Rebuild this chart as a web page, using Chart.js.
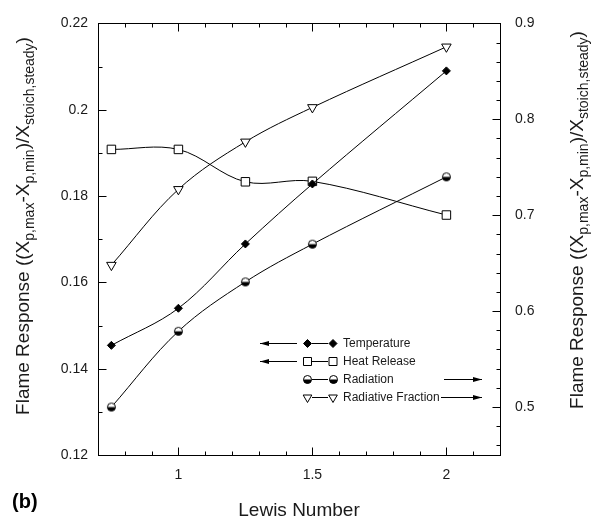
<!DOCTYPE html>
<html>
<head>
<meta charset="utf-8">
<script src="https://cdn.jsdelivr.net/npm/chart.js@4.4.1/dist/chart.umd.min.js"></script>
<style>
  html, body { margin: 0; padding: 0; background: #fff; }
</style>
</head>
<body>
<canvas id="myChart" width="598" height="522"></canvas>
<script>
// values
const lewis = [0.75, 1, 1.25, 1.5, 2];
const temperature = [0.1454, 0.1540, 0.1689, 0.1828, 0.2090];
const heatRelease = [0.1908, 0.1908, 0.1833, 0.1834, 0.1756];
const radiation = [0.500, 0.579, 0.6305, 0.6698, 0.740];
const radiativeFraction = [0.648, 0.727, 0.7765, 0.8124, 0.8756];

const xTicks = [1, 1.5, 2];
const leftTicks = [0.12, 0.14, 0.16, 0.18, 0.2, 0.22];
const rightTicks = [0.5, 0.6, 0.7, 0.8, 0.9];

const seriesNames = ['Temperature', 'Heat Release', 'Radiation', 'Radiative Fraction'];

Chart.defaults.font.family = '"Liberation Sans", Arial, sans-serif';
Chart.defaults.color = '#1a1a1a';

// half filled circle used for the Radiation markers
function halfDisc(r) {
  const c = document.createElement('canvas');
  const s = Math.ceil(2 * r + 3);
  c.width = s; c.height = s;
  const g = c.getContext('2d');
  g.translate(s / 2, s / 2);
  g.beginPath(); g.arc(0, 0, r, 0, 2 * Math.PI); g.fillStyle = '#fff'; g.fill();
  g.beginPath(); g.arc(0, 0, r, 0, Math.PI); g.closePath(); g.fillStyle = '#000'; g.fill();
  g.beginPath(); g.arc(0, 0, r, 0, 2 * Math.PI); g.lineWidth = 1; g.strokeStyle = '#000'; g.stroke();
  return c;
}
const halfImg = halfDisc(4);

const pts = (ys) => lewis.map((x, i) => ({ x: x, y: ys[i] }));

const data = {
  datasets: [
    {
      label: seriesNames[0], data: pts(temperature), yAxisID: 'y',
      pointStyle: 'rectRot', pointRadius: 4, pointBackgroundColor: '#000'
    },
    {
      label: seriesNames[1], data: pts(heatRelease), yAxisID: 'y',
      pointStyle: 'rect', pointRadius: 6, pointBackgroundColor: '#fff'
    },
    {
      label: seriesNames[2], data: pts(radiation), yAxisID: 'y2',
      pointStyle: halfImg
    },
    {
      label: seriesNames[3], data: pts(radiativeFraction), yAxisID: 'y2',
      pointStyle: 'triangle', pointRotation: 180, pointRadius: 5.5, pointBackgroundColor: '#fff'
    }
  ]
};
data.datasets.forEach(d => {
  d.borderColor = '#000';
  d.borderWidth = 1;
  d.pointBorderColor = '#000';
  d.pointBorderWidth = 1;
  d.tension = 0.35;
  d.fill = false;
});

function fmt(v) { return String(Math.round(v * 100) / 100); }

// frame, inward ticks, y titles with subscripts, legend with arrows
const decor = {
  id: 'decor',
  afterDraw(chart) {
    const c = chart.ctx;
    const a = chart.chartArea;
    const sx = chart.scales.x, sl = chart.scales.y, sr = chart.scales.y2;
    const L = Math.round(a.left) + 0.5, R = Math.round(a.right) + 0.5;
    const T = Math.round(a.top) + 0.5, B = Math.round(a.bottom) + 0.5;
    c.save();
    c.strokeStyle = '#000';
    c.fillStyle = '#000';
    c.lineWidth = 1;
    c.strokeRect(L, T, R - L, B - T);

    c.beginPath();
    for (let i = 8; i <= 21; i++) {
      const x = Math.round(sx.getPixelForValue(i / 10)) + 0.5;
      const len = i % 5 === 0 ? 8 : 4;
      c.moveTo(x, B); c.lineTo(x, B - len);
      c.moveTo(x, T); c.lineTo(x, T + len);
    }
    for (let i = 13; i <= 21; i++) {
      const y = Math.round(sl.getPixelForValue(i / 100)) + 0.5;
      const len = i % 2 === 0 ? 8 : 4;
      c.moveTo(L, y); c.lineTo(L + len, y);
    }
    for (let i = 46; i < 90; i += 2) {
      const y = Math.round(sr.getPixelForValue(i / 100)) + 0.5;
      const len = i % 10 === 0 ? 8 : 4;
      c.moveTo(R, y); c.lineTo(R - len, y);
    }
    c.stroke();

    // y axis titles
    const parts = [['Flame Response ((X', 0], ['p,max', 1], ['-X', 0], ['p,min', 1],
                   [')/X', 0], ['stoich,steady', 1], [')', 0]];
    const mainFont = '19px "Liberation Sans", Arial, sans-serif';
    const subFont = '14px "Liberation Sans", Arial, sans-serif';
    function richTitle(bx, cy) {
      c.save();
      c.translate(bx, cy);
      c.rotate(-Math.PI / 2);
      c.fillStyle = '#1a1a1a';
      c.textBaseline = 'alphabetic';
      c.textAlign = 'left';
      let total = 0;
      parts.forEach(p => { c.font = p[1] ? subFont : mainFont; total += c.measureText(p[0]).width; });
      let x = -total / 2;
      parts.forEach(p => {
        c.font = p[1] ? subFont : mainFont;
        c.fillText(p[0], x, p[1] ? 5 : 0);
        x += c.measureText(p[0]).width;
      });
      c.restore();
    }
    richTitle(29, 226);
    richTitle(583, 220);

    // panel tag
    c.font = 'bold 20px "Liberation Sans", Arial, sans-serif';
    c.textBaseline = 'middle';
    c.textAlign = 'left';
    c.fillText('(b)', 12, 502);

    // legend
    function marker(kind, x, y) {
      c.beginPath();
      if (kind === 0) {
        c.moveTo(x, y - 4); c.lineTo(x + 4, y); c.lineTo(x, y + 4); c.lineTo(x - 4, y); c.closePath();
        c.fillStyle = '#000'; c.fill(); c.stroke();
      } else if (kind === 1) {
        c.rect(x - 4, y - 4, 8, 8);
        c.fillStyle = '#fff'; c.fill(); c.stroke();
      } else if (kind === 2) {
        c.drawImage(halfImg, Math.round(x - halfImg.width / 2), Math.round(y - halfImg.height / 2));
      } else {
        const r = 5;
        c.moveTo(x, y + r); c.lineTo(x - r * 0.866, y - r / 2); c.lineTo(x + r * 0.866, y - r / 2); c.closePath();
        c.fillStyle = '#fff'; c.fill(); c.stroke();
      }
    }
    function arrow(x1, x2, y) {
      c.beginPath(); c.moveTo(x1, y); c.lineTo(x2, y); c.stroke();
      const d = x2 > x1 ? -1 : 1;
      c.beginPath();
      c.moveTo(x2, y); c.lineTo(x2 + d * 9, y - 2.5); c.lineTo(x2 + d * 9, y + 2.5); c.closePath();
      c.fillStyle = '#000'; c.fill();
    }
    const rowsY = [343.5, 361.5, 379.5, 397.5];
    c.font = '12px "Liberation Sans", Arial, sans-serif';
    seriesNames.forEach((name, i) => {
      const y = rowsY[i];
      c.beginPath(); c.moveTo(312, y); c.lineTo(328, y); c.stroke();
      marker(i, 307.5, y);
      marker(i, 333, y);
      c.fillStyle = '#1a1a1a';
      c.textBaseline = 'middle';
      c.fillText(name, 343, y + 0.5);
    });
    arrow(297, 260, rowsY[0]);
    arrow(297, 260, rowsY[1]);
    arrow(444, 482, rowsY[2]);
    arrow(441, 482, rowsY[3]);
    c.restore();
  }
};

const config = {
  type: 'line',
  data: data,
  options: {
    responsive: false,
    animation: false,
    devicePixelRatio: 1,
    layout: { padding: { top: 16, left: 0, right: 0, bottom: 0 } },
    plugins: {
      legend: { display: false },
      tooltip: { enabled: false }
    },
    scales: {
      x: {
        type: 'linear',
        min: 0.7,
        max: 2.2,
        grid: { display: false, drawTicks: false },
        border: { display: false },
        ticks: { font: { size: 14 }, padding: 12, callback: fmt },
        afterBuildTicks: s => { s.ticks = xTicks.map(v => ({ value: v })); },
        afterFit: s => { s.height = 67; },
        title: { display: true, text: 'Lewis Number', font: { size: 19 }, padding: { top: 0, bottom: 0 } }
      },
      y: {
        position: 'left',
        min: 0.12,
        max: 0.22,
        grid: { display: false, drawTicks: false },
        border: { display: false },
        ticks: { font: { size: 14 }, padding: 10, callback: fmt },
        afterBuildTicks: s => { s.ticks = leftTicks.map(v => ({ value: v })); },
        afterFit: s => { s.width = 98; }
      },
      y2: {
        position: 'right',
        min: 0.45,
        max: 0.9,
        grid: { display: false, drawTicks: false },
        border: { display: false },
        ticks: { font: { size: 14 }, padding: 15, callback: fmt },
        afterBuildTicks: s => { s.ticks = rightTicks.map(v => ({ value: v })); },
        afterFit: s => { s.width = 98; }
      }
    }
  },
  plugins: [decor]
};

var myChart = new Chart(document.getElementById('myChart').getContext('2d'), config);
</script>
</body>
</html>
